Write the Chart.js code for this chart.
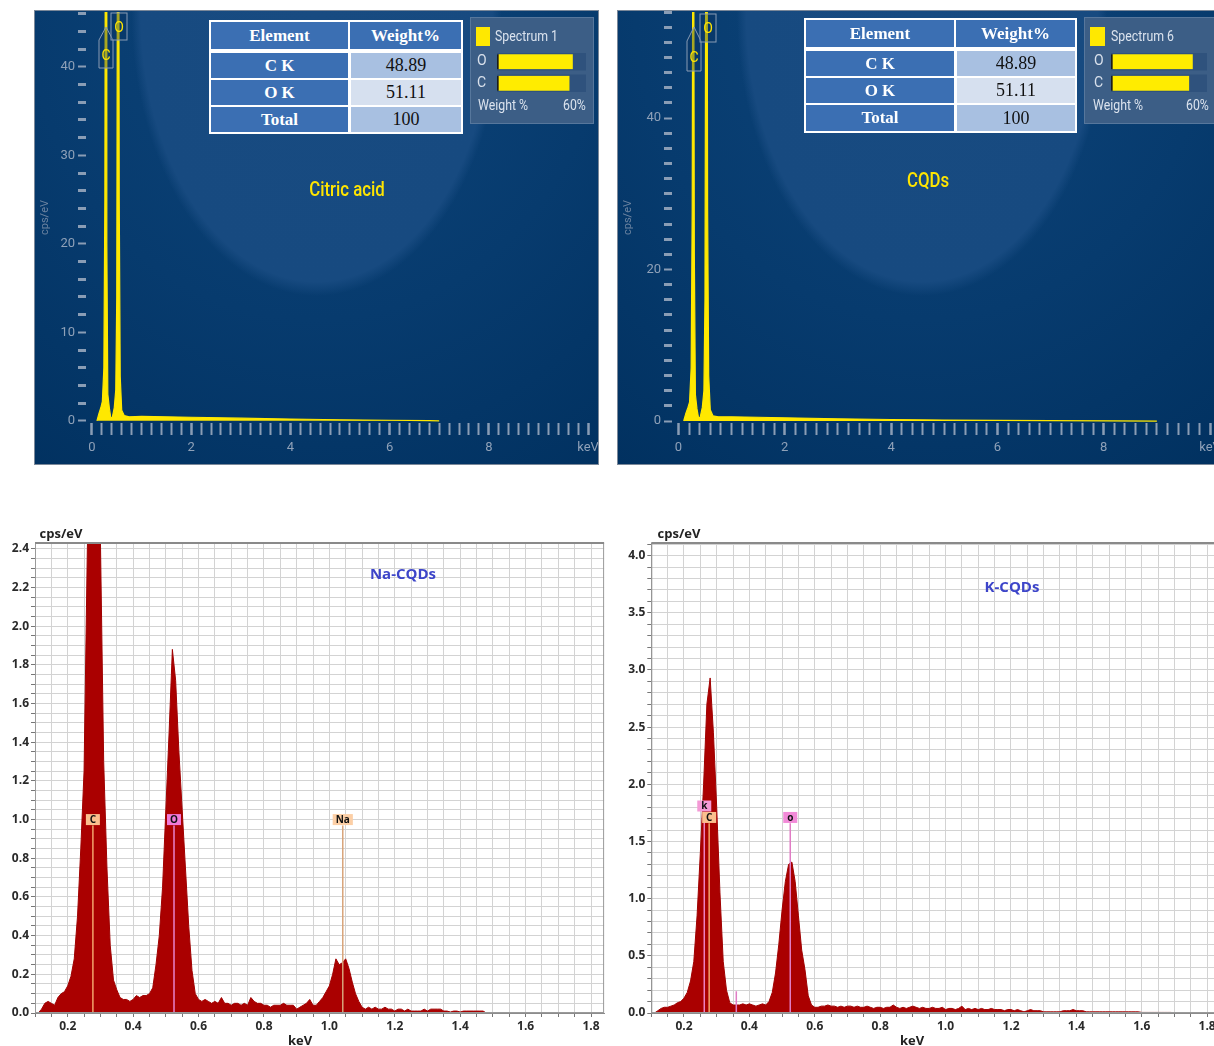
<!DOCTYPE html>
<html>
<head>
<meta charset="utf-8">
<script src="https://cdn.jsdelivr.net/npm/chart.js@4.4.1/dist/chart.umd.min.js"></script>
<style>
  body { margin:0; width:1214px; height:1046px; overflow:hidden; background:#fff; position:relative; font-family:Roboto, "Open Sans", sans-serif; }
  canvas { position:absolute; }
  .panel { position:absolute; box-sizing:border-box; border:1px solid #7b8899; }
  .blue { background:
      radial-gradient(ellipse 185px 285px at 50% 0%, #184b81 0%, #174a80 95%, rgba(0,0,0,0) 100%),
      radial-gradient(ellipse 520px 560px at 50% 0%, #0e457b 0%, #073b6e 55%, #013160 100%); }
  .tbl { position:absolute; background:#fff; }
  .tbl div { position:absolute; display:flex; align-items:center; justify-content:center; font-family:"Liberation Serif", serif; }
  .hd { background:#3b6fb3; color:#fff; font-weight:bold; font-size:17px; }
  .vl { color:#111; font-size:18px; }
  .leg { position:absolute; box-sizing:border-box; background:#3c5e86; border:1px solid #57779c; }
  .legt { position:absolute; color:#dbe3ee; font-size:14px; white-space:nowrap; transform-origin:left center; transform:scaleX(0.88); }
  .ttl { position:absolute; white-space:nowrap; color:#ffe500; font-family:Roboto; font-weight:500; font-size:21px; transform:translate(-50%,-50%) scaleX(0.8); }
  .btxt { position:absolute; white-space:nowrap; font-family:"Open Sans"; font-weight:bold; color:#222; transform:translate(-50%,-50%); }
</style>
</head>
<body>

<div class="panel blue" style="left:34px;top:10px;width:565px;height:455px"></div>
<div class="panel blue" style="left:617px;top:10px;width:610px;height:455px"></div>

<canvas id="citric" width="564" height="454" style="left:34px;top:10px"></canvas>
<canvas id="cqds" width="603" height="454" style="left:617px;top:10px"></canvas>
<canvas id="na" width="612" height="516" style="left:0px;top:530px"></canvas>
<canvas id="k" width="620" height="516" style="left:616px;top:530px"></canvas>

<!-- peak tags on the top spectra -->
<svg style="position:absolute;left:0;top:0" width="1214" height="100">
  <g fill="rgba(10,50,95,0.35)" stroke="#8a9cb4" stroke-width="1">
    <polygon points="99,40 106,27 113,40 113,68 99,68"/>
    <rect x="111" y="13" width="16" height="27"/>
    <polygon points="687,41 694,27 701,41 701,71 687,71"/>
    <rect x="700" y="14" width="16" height="28"/>
  </g>
  <g fill="#ffe500" font-family="Roboto" font-size="14" text-anchor="middle">
    <text x="106" y="60">C</text>
    <text x="119" y="32">O</text>
    <text x="694" y="62">C</text>
    <text x="708" y="33">O</text>
  </g>
</svg>

<div id="tblCitric" class="tbl" style="left:209px;top:20px;width:254px;height:114px"></div>
<div id="tblCqds" class="tbl" style="left:804px;top:18px;width:273px;height:115px"></div>

<div class="leg" style="left:470px;top:17px;width:124px;height:107px"></div>
<div style="position:absolute;left:476px;top:27px;width:14px;height:19px;background:#ffe800"></div>
<div class="legt" style="left:495px;top:28px">Spectrum 1</div>
<div class="legt" style="left:478px;top:97px">Weight %</div>
<div class="legt" style="left:563px;top:97px">60%</div>
<canvas id="wCitric" width="113" height="46" style="left:477px;top:50px"></canvas>

<div class="leg" style="left:1084px;top:17px;width:140px;height:107px"></div>
<div style="position:absolute;left:1090px;top:27px;width:15px;height:19px;background:#ffe800"></div>
<div class="legt" style="left:1111px;top:28px">Spectrum 6</div>
<div class="legt" style="left:1093px;top:97px">Weight %</div>
<div class="legt" style="left:1186px;top:97px">60%</div>
<canvas id="wCqds" width="116" height="46" style="left:1094px;top:50px"></canvas>

<div class="ttl" style="left:347px;top:189px">Citric acid</div>
<div class="ttl" style="left:928px;top:180px">CQDs</div>

<div class="btxt" style="left:61px;top:533px;font-size:13px">cps/eV</div>
<div class="btxt" style="left:679px;top:533px;font-size:13px">cps/eV</div>
<div class="btxt" style="left:300px;top:1040px;font-size:13px">keV</div>
<div class="btxt" style="left:912px;top:1040px;font-size:13px">keV</div>
<div class="btxt" style="left:403px;top:573px;font-size:15px;color:#3d45c9">Na-CQDs</div>
<div class="btxt" style="left:1012px;top:586px;font-size:15px;color:#3d45c9">K-CQDs</div>

<script>
Chart.defaults.font.family = '"Open Sans", sans-serif';

// ---- top spectra (yellow, dark panels) ----
const citricKeV = [0.10,0.14,0.18,0.21,0.24,0.26,0.275,0.285,0.30,0.32,0.35,0.38,0.41,0.45,0.48,0.50,0.515,0.525,0.535,0.55,0.57,0.60,0.65,0.75,1.0,1.5,2.0,3.0,4.0,5.0,6.0,6.8,7.0];
const citricCps = [0,0.8,1.5,2.2,6,25,75,72,20,3,1.5,0.3,0.4,1.5,3.5,14,60,95,85,25,5,1.2,0.6,0.45,0.5,0.45,0.4,0.3,0.2,0.12,0.06,0.02,0];

const cqdKeV = [0.10,0.14,0.18,0.21,0.24,0.26,0.275,0.285,0.30,0.32,0.35,0.38,0.41,0.45,0.48,0.50,0.515,0.525,0.535,0.55,0.57,0.60,0.65,0.75,1.0,1.5,2.0,3.0,4.0,5.0,6.0,7.0,8.0,9.0];
const cqdCps = [0,1.0,1.8,2.5,7,28,80,78,22,3.5,1.6,0.4,0.5,1.8,4,16,65,100,90,28,6,1.5,0.7,0.55,0.55,0.5,0.42,0.3,0.2,0.13,0.08,0.05,0.03,0];

// composition table + weight bars
const tableHead = ['Element', 'Weight%'];
const tableRows = [['C K', '48.89'], ['O K', '51.11'], ['Total', '100']];
const weightLabels = ['O', 'C'];
const weightPct = [51.11, 48.89];
const WEIGHT_MAX = 60;

// ---- bottom spectra, channels every 0.01 keV ----
const STEP = 0.01;
const naStart = 0.11;
const naCps = [
  0, 0.02, 0.05, 0.06, 0.05, 0.04, 0.08, 0.10, 0.11, 0.14,
  0.19, 0.28, 0.50, 0.85, 1.25, 2.40, 2.90, 3.10, 2.90, 2.45,
  1.30, 0.75, 0.35, 0.17, 0.12, 0.08, 0.07, 0.07, 0.06, 0.07,
  0.09, 0.08, 0.09, 0.09, 0.10, 0.13, 0.25, 0.40, 0.65, 1.05,
  1.45, 1.88, 1.72, 1.35, 1.05, 0.75, 0.45, 0.22, 0.10, 0.07,
  0.06, 0.07, 0.06, 0.05, 0.06, 0.05, 0.08, 0.05, 0.05, 0.04,
  0.05, 0.05, 0.04, 0.05, 0.04, 0.08, 0.06, 0.05, 0.05, 0.04,
  0.04, 0.03, 0.04, 0.04, 0.04, 0.05, 0.04, 0.04, 0.04, 0.02,
  0.03, 0.04, 0.05, 0.07, 0.04, 0.04, 0.06, 0.08, 0.11, 0.14,
  0.20, 0.28, 0.25, 0.26, 0.28, 0.23, 0.16, 0.10, 0.06, 0.03,
  0.02, 0.03, 0.02, 0.03, 0.02, 0.02, 0.03, 0.02, 0.02, 0.01,
  0.02, 0.02, 0.01, 0.02, 0.01, 0.01, 0.01, 0.01, 0.02, 0.01,
  0.02, 0.02, 0.02, 0.02, 0.01, 0.01, 0.005, 0.01, 0.01, 0.005,
  0.01, 0.01, 0.01, 0.01, 0.01, 0.01, 0.01, 0
];
const kStart = 0.11;
const kCps = [
  0, 0.02, 0.04, 0.05, 0.05, 0.06, 0.07, 0.09, 0.10, 0.13,
  0.18, 0.28, 0.45, 0.85, 1.40, 2.00, 2.70, 2.93, 2.45, 1.80,
  1.05, 0.45, 0.20, 0.09, 0.07, 0.07, 0.07, 0.08, 0.07, 0.08,
  0.07, 0.06, 0.07, 0.08, 0.07, 0.10, 0.18, 0.35, 0.60, 0.90,
  1.15, 1.30, 1.32, 1.15, 0.85, 0.55, 0.38, 0.15, 0.07, 0.05,
  0.05, 0.06, 0.06, 0.07, 0.06, 0.06, 0.05, 0.06, 0.05, 0.06,
  0.06, 0.05, 0.06, 0.05, 0.05, 0.06, 0.05, 0.04, 0.05, 0.05,
  0.04, 0.05, 0.05, 0.07, 0.05, 0.04, 0.05, 0.04, 0.05, 0.06,
  0.05, 0.04, 0.05, 0.04, 0.04, 0.05, 0.04, 0.04, 0.05, 0.03,
  0.04, 0.04, 0.03, 0.04, 0.06, 0.03, 0.04, 0.03, 0.04, 0.03,
  0.04, 0.03, 0.03, 0.04, 0.03, 0.03, 0.03, 0.02, 0.03, 0.03,
  0.02, 0.03, 0.02, 0.01, 0.02, 0.03, 0.02, 0.02, 0.02, 0.01,
  0.01, 0.01, 0.01, 0.01, 0.01, 0.02, 0.02, 0.02, 0.03, 0.02,
  0.02, 0.02, 0.01, 0.01, 0.01, 0.01, 0.01, 0.01, 0.01, 0.01,
  0.01, 0.01, 0.01, 0.01, 0.01, 0.01, 0.01, 0.01, 0.01, 0.005,
  0.005, 0.005, 0.005, 0.005, 0.005, 0.005, 0.005, 0.005, 0.005, 0
];

// element lines: name, energy (keV), tag height, line top (cps/eV)
const naMarkNames = ['C', 'O', 'Na'];
const naMarkKeV = [0.277, 0.525, 1.041];
const naMarkTag = [1.0, 1.0, 1.0];
const naMarkTop = [0.97, 0.97, 0.97];
const kMarkNames = ['k', 'C', 'o', ''];
const kMarkKeV = [0.262, 0.277, 0.525, 0.36];
const kMarkTag = [1.81, 1.71, 1.71, 0];
const kMarkTop = [1.68, 1.66, 1.66, 0.19];

function steps(from, to, step) {
  const out = [];
  const n = Math.round((to - from) / step);
  for (let i = 0; i <= n; i++) out.push(+(from + i * step).toFixed(3));
  return out;
}
const near = (v, m) => Math.abs(v / m - Math.round(v / m)) < 1e-6;

// keep chart areas exactly where the axes put them (no label overhang padding)
const fixX = h => s => { s.height = h; s.paddingLeft = 0; s.paddingRight = 0; };
const fixY = w => s => { s.width = w; s.paddingTop = 0; s.paddingBottom = 0; };

// tables
function buildTable(id, colSplit, rowsY, headH) {
  const el = document.getElementById(id);
  const w = el.offsetWidth;
  const cell = (x, y, cw, ch, cls, bg, text) => {
    const d = document.createElement('div');
    d.className = cls;
    d.style.cssText = `left:${x}px;top:${y}px;width:${cw}px;height:${ch}px;background:${bg}`;
    d.textContent = text;
    el.appendChild(d);
  };
  cell(2, 2, colSplit - 2, headH, 'hd', '#3b6fb3', tableHead[0]);
  cell(colSplit + 2, 2, w - colSplit - 4, headH, 'hd', '#3b6fb3', tableHead[1]);
  const valBg = ['#a8c0e1', '#d6e0ef', '#a8c0e1'];
  tableRows.forEach((r, i) => {
    const y = rowsY[i], h = rowsY[i + 1] - y - 2;
    cell(2, y, colSplit - 2, h, 'hd', '#3b6fb3', r[0]);
    cell(colSplit + 3, y, w - colSplit - 5, h, 'vl', valBg[i], r[1]);
  });
}
buildTable('tblCitric', 139, [33, 60, 87, 114], 27);
buildTable('tblCqds', 150, [33, 60, 87, 115], 27);

// weight % bars in the legend box
function weightBars(id, axisW, rightPad) {
  new Chart(document.getElementById(id), {
    type: 'bar',
    data: {
      labels: weightLabels,
      datasets: [
        { data: weightPct, backgroundColor: '#ffec00', barThickness: 15, grouped: false, order: 0,
          borderColor: '#1c1c1c', borderWidth: { left: 2, right: 0, top: 0, bottom: 0 }, borderSkipped: false },
        { data: weightPct.map(() => WEIGHT_MAX), backgroundColor: '#2f527d', barThickness: 17, grouped: false, order: 1 }
      ]
    },
    options: {
      indexAxis: 'y', responsive: false, animation: false, events: [],
      layout: { padding: { top: 1, right: rightPad, bottom: 2, left: 0 } },
      plugins: { legend: { display: false }, tooltip: { enabled: false } },
      scales: {
        x: { display: false, min: 0, max: WEIGHT_MAX },
        y: { afterFit: fixY(axisW), grid: { display: false }, border: { display: false },
             ticks: { color: '#d9e1ec', font: { family: 'Roboto', size: 14 }, padding: 0, crossAlign: 'far' } }
      }
    }
  });
}
weightBars('wCitric', 20, 4);
weightBars('wCqds', 17, 3);

// top spectra
const topXTicks = steps(0, 10, 0.2);
function topPanel(id, keV, cps, yMin, yMax, yLabelEvery, axisW, rightPad) {
  new Chart(document.getElementById(id), {
    type: 'line',
    data: { datasets: [{
      data: keV.map((e, i) => ({ x: e, y: cps[i] })),
      borderColor: '#ffe800', backgroundColor: '#ffe800', borderWidth: 1.2,
      pointRadius: 0, fill: 'origin', tension: 0
    }] },
    options: {
      responsive: false, animation: false, events: [],
      layout: { padding: { left: 0, right: rightPad, top: 2, bottom: 0 } },
      plugins: { legend: { display: false }, tooltip: { enabled: false } },
      scales: {
        x: {
          type: 'linear', min: -0.12, max: 10.05,
          afterFit: fixX(41),
          afterBuildTicks: s => { s.ticks = topXTicks.map(v => ({ value: v })); },
          border: { display: false },
          grid: { drawOnChartArea: false, tickLength: 12, tickColor: '#8a9db5',
                  tickWidth: c => near(c.tick.value, 2) ? 2.5 : 2 },
          ticks: { autoSkip: false, maxRotation: 0, padding: 5, color: '#8fa1b8',
                   font: { family: 'Roboto', size: 13 },
                   callback: v => v === 10 ? 'keV' : (near(v, 2) ? String(Math.round(v)) : '') }
        },
        y: {
          min: yMin, max: yMax,
          afterFit: fixY(axisW),
          afterBuildTicks: s => { s.ticks = steps(0, Math.floor(yMax / 2) * 2, 2).map(v => ({ value: v })); },
          border: { display: false },
          grid: { drawOnChartArea: false, tickLength: 8, tickColor: '#8a9db5',
                  tickWidth: c => near(c.tick.value, yLabelEvery) ? 2 : 3 },
          title: { display: true, text: 'cps/eV', color: '#6c83a0', font: { family: 'Roboto', size: 11 }, padding: { top: 5, bottom: 0 } },
          ticks: { autoSkip: false, padding: 3, color: '#8fa1b8', font: { family: 'Roboto', size: 13 },
                   callback: v => near(v, yLabelEvery) ? String(v) : '' }
        }
      }
    }
  });
}
topPanel('citric', citricKeV, citricCps, -0.25, 46.2, 10, 52, 7.5);
topPanel('cqds', cqdKeV, cqdCps, -0.26, 54, 20, 55, 7.3);

// bottom spectra
const frame = {
  id: 'frame',
  afterDatasetsDraw(chart) {
    const a = chart.chartArea, c = chart.ctx;
    c.save();
    c.strokeStyle = '#9a9a9a';
    c.lineWidth = 1;
    c.strokeRect(a.left + 0.5, a.top + 0.5, a.width - 1, a.height - 1);
    c.fillStyle = '#8a8a8a';
    c.fillRect(a.left, a.top - 1, a.width, 2);
    c.restore();
  }
};
function tagPlugin(names, keV, at, bgs) {
  return {
    id: 'tags',
    afterDatasetsDraw(chart) {
      const c = chart.ctx, xs = chart.scales.x, ys = chart.scales.y;
      c.save();
      c.font = 'bold 10px "Open Sans"';
      c.textAlign = 'center';
      c.textBaseline = 'middle';
      names.forEach((n, i) => {
        if (!n) return;
        const x = xs.getPixelForValue(keV[i]), y = ys.getPixelForValue(at[i]);
        const w = Math.max(14, c.measureText(n).width + 6), h = 11;
        c.fillStyle = bgs[i];
        c.fillRect(x - w / 2, y - h / 2, w, h);
        c.fillStyle = '#111';
        c.fillText(n, x, y + 0.5);
      });
      c.restore();
    }
  };
}

const xGrid = steps(0.1, 1.8, 0.05);
function edsPanel(o) {
  const spectrum = {
    data: o.cps.map((v, i) => ({ x: +(o.start + i * STEP).toFixed(2), y: v })),
    borderColor: '#a00000', backgroundColor: '#aa0000', borderWidth: 1,
    pointRadius: 0, fill: 'origin', tension: 0, order: 1
  };
  const lines = o.names.map((n, i) => ({
    data: [{ x: o.keV[i], y: 0 }, { x: o.keV[i], y: o.top[i] }],
    borderColor: o.lineColors[i], borderWidth: 1.5, pointRadius: 0, fill: false, order: 0
  }));
  new Chart(document.getElementById(o.id), {
    type: 'line',
    data: { datasets: [...lines, spectrum] },
    plugins: [frame, tagPlugin(o.names, o.keV, o.tag, o.tagColors)],
    options: {
      responsive: false, animation: false, events: [],
      layout: { padding: { left: 0, right: o.rightPad, top: 13, bottom: 0 } },
      plugins: { legend: { display: false }, tooltip: { enabled: false } },
      scales: {
        x: {
          type: 'linear', min: 0.1, max: 1.84,
          afterFit: fixX(33),
          afterBuildTicks: s => { s.ticks = xGrid.map(v => ({ value: v })); },
          border: { color: '#8c8c8c' },
          grid: { color: '#d3d3d3', tickLength: 4, tickColor: '#777' },
          ticks: { autoSkip: false, maxRotation: 0, padding: 2, color: '#2a2a2a',
                   font: { family: '"Open Sans"', size: 12, weight: 'bold' },
                   callback: v => near(v, 0.2) ? v.toFixed(1) : '' }
        },
        y: {
          min: 0, max: o.yMax,
          afterFit: fixY(o.axisW),
          afterBuildTicks: s => { s.ticks = o.yGrid.map(v => ({ value: v })); },
          border: { color: '#8c8c8c' },
          grid: { color: '#d3d3d3', tickLength: 4, tickColor: '#777' },
          ticks: { autoSkip: false, padding: 2, color: '#2a2a2a',
                   font: { family: '"Open Sans"', size: 12, weight: 'bold' },
                   callback: v => near(v, o.yLabelEvery) ? v.toFixed(1) : '' }
        }
      }
    }
  });
}

edsPanel({
  id: 'na', start: naStart, cps: naCps, yMax: 2.43, yGrid: steps(0, 2.4, 0.05), yLabelEvery: 0.2,
  axisW: 35, rightPad: 7.9,
  names: naMarkNames, keV: naMarkKeV, tag: naMarkTag, top: naMarkTop,
  lineColors: ['#f3a46c', '#e882cc', '#d8a47a'], tagColors: ['#fbbf8e', '#f07ad8', '#fccfa6']
});
edsPanel({
  id: 'k', start: kStart, cps: kCps, yMax: 4.11, yGrid: steps(0, 4.1, 0.1), yLabelEvery: 0.5,
  axisW: 35.3, rightPad: 15.8,
  names: kMarkNames, keV: kMarkKeV, tag: kMarkTag, top: kMarkTop,
  lineColors: ['#ef7fc0', '#f3a46c', '#e07cc4', '#e07cc4'], tagColors: ['#f49ad6', '#fbbf8e', '#f28ad8', '#f28ad8']
});
</script>
</body>
</html>
